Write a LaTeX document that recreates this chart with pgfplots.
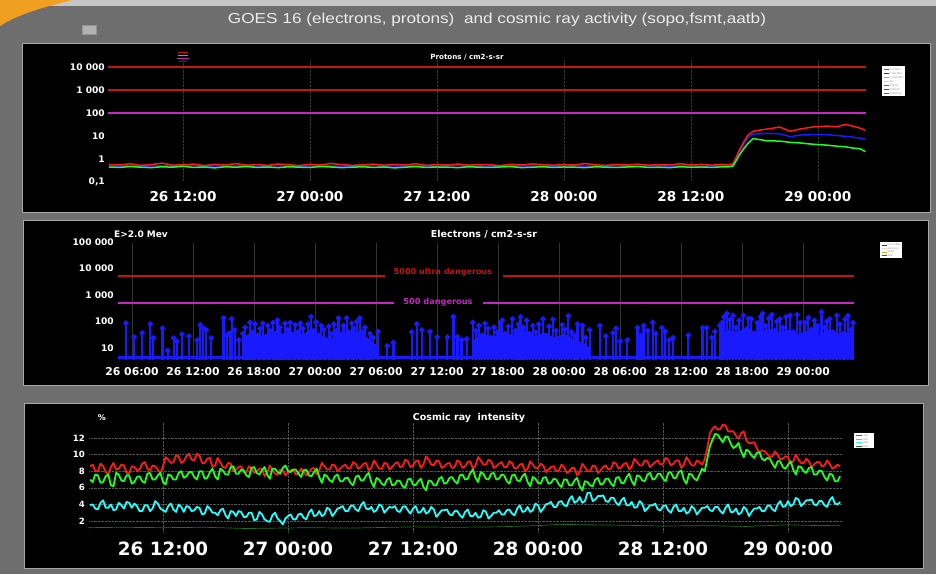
\documentclass[border=0pt]{standalone}
\usepackage{graphicx}
\usepackage{pgfplots}
\pgfplotsset{compat=1.18}
\usepackage{pgfplotstable}
\usepackage{fontspec}
\setmainfont{DejaVu Sans}
\newfontfamily\titlefont{Liberation Sans}
\definecolor{bgray}{HTML}{6E6E6E}
\definecolor{frameg}{HTML}{A8A8A8}
\definecolor{dred}{HTML}{C41414}
\definecolor{mag}{HTML}{C428C4}
\definecolor{pred}{HTML}{FF1A1A}
\definecolor{pgreen}{HTML}{1EFF1E}
\definecolor{pblue}{HTML}{1A1AFF}
\definecolor{pcyan}{HTML}{22FFFF}
\definecolor{dkgreen}{HTML}{1E701E}
\definecolor{gridc}{HTML}{555555}
\definecolor{orng}{HTML}{F0A020}

\pgfplotstableread{
t r b g
5 0.58 0.50 0.45
6 0.55 0.49 0.43
7 0.62 0.52 0.47
8 0.53 0.48 0.44
9 0.57 0.50 0.42
10 0.66 0.51 0.46
11 0.54 0.49 0.44
12 0.56 0.50 0.48
13 0.60 0.52 0.43
14 0.52 0.48 0.45
15 0.58 0.50 0.41
16 0.55 0.49 0.46
17 0.63 0.51 0.44
18 0.54 0.50 0.47
19 0.57 0.48 0.43
20 0.53 0.50 0.45
21 0.61 0.52 0.42
22 0.56 0.49 0.46
23 0.52 0.48 0.44
24 0.59 0.50 0.43
25 0.55 0.51 0.47
26 0.64 0.50 0.45
27 0.57 0.49 0.42
28 0.53 0.48 0.44
29 0.56 0.50 0.46
30 0.60 0.52 0.43
31 0.54 0.49 0.45
32 0.58 0.50 0.41
33 0.55 0.48 0.44
34 0.62 0.51 0.47
35 0.53 0.50 0.43
36 0.57 0.49 0.45
37 0.55 0.50 0.44
38 0.60 0.52 0.42
39 0.54 0.48 0.46
40 0.58 0.50 0.44
41 0.56 0.49 0.43
42 0.52 0.48 0.45
43 0.59 0.51 0.47
44 0.55 0.50 0.42
45 0.61 0.49 0.44
46 0.57 0.50 0.46
47 0.54 0.48 0.43
48 0.58 0.51 0.45
49 0.55 0.50 0.44
50 0.63 0.49 0.42
51 0.56 0.50 0.46
52 0.53 0.48 0.44
53 0.58 0.52 0.43
54 0.55 0.50 0.45
55 0.60 0.49 0.47
56 0.54 0.50 0.43
57 0.57 0.51 0.44
58 0.55 0.48 0.42
59 0.62 0.50 0.46
60 0.56 0.52 0.44
61 0.58 0.49 0.45
62 0.54 0.50 0.43
63 0.59 0.51 0.46
63.5 0.55 0.50 0.45
64.0 0.62 0.56 0.50
64.6 2.5 2.0 1.5
65.0 5.5 4.5 2.8
65.4 11 9 4.8
65.9 16 12 7.7
66.5 18 12.5 7.0
67.2 20 13 6.2
67.8 22 12.8 6.1
68.4 24.6 12.5 6.0
69.4 16 9.3 5.3
70.3 20 11 5.0
71.5 24.6 11.4 4.4
72.9 27 11.4 4.0
73.8 25 10.5 3.6
74.6 32 9.7 3.4
75.3 27 9 3.0
76.0 22 8 2.8
76.5 18 7.2 2.1
}\protons

\pgfplotstableread{
t v
5.4 87
6.2 26
7.0 37
7.8 81
8.1 24
9.0 56
9.5 8
10.1 24
10.4 18
10.9 33
11.6 28
12.4 20
12.7 74
13.0 55
13.3 48
13.8 24
15.0 135
15.3 30
15.6 37
15.8 125
16.1 48
16.5 20
16.9 35
17.1 60
17.35 25
17.6 92
17.85 40
18.1 80
18.35 30
18.6 55
18.85 85
19.1 20
19.35 70
19.6 45
19.85 90
20.1 35
20.3 112
20.55 60
20.8 28
21.05 85
21.3 50
21.55 90
21.8 30
22.05 75
22.3 40
22.55 85
22.8 55
23.05 25
23.3 80
23.6 153
23.85 45
24.1 95
24.35 30
24.6 70
24.85 50
25.1 20
25.35 65
25.6 35
25.85 80
26.1 45
26.3 135
26.55 30
26.8 70
27.1 135
27.35 40
27.6 85
27.85 55
28.1 100
28.4 135
28.65 40
28.9 60
29.15 15
29.4 35
29.7 25
30.2 42
31.1 12
31.7 16
33.5 40
34.0 81
34.5 48
35.3 42
36.0 26
37.0 26
37.6 153
38.0 26
38.4 20
38.9 22
39.5 92
39.8 45
40.1 70
40.4 30
40.7 85
41.0 55
41.3 25
41.6 60
41.9 40
42.2 90
42.4 112
42.7 35
43.0 65
43.4 125
43.7 45
44.0 80
44.2 150
44.5 60
44.8 110
45.1 35
45.4 70
45.7 40
46.0 80
46.4 125
46.7 30
47.0 65
47.4 120
47.7 45
48.0 20
48.3 75
48.6 50
48.9 165
49.2 40
49.5 30
49.8 80
50.3 70
50.6 25
51.0 48
52.0 70
52.6 28
53.3 37
53.6 55
54.0 18
54.7 20
55.7 58
56.0 30
56.3 70
56.7 45
57.2 92
57.5 35
58.1 58
58.4 42
58.8 20
59.2 24
60.7 30
62.1 58
62.5 58
63.0 25
63.3 42
63.8 70
64.0 90
64.2 150
64.5 200
64.8 120
65.1 170
65.4 60
65.7 110
66.1 170
66.4 50
66.6 130
66.9 125
67.2 35
67.5 90
67.8 150
68.0 200
68.3 70
68.6 130
68.9 180
69.2 45
69.4 100
69.7 125
70.0 60
70.3 150
70.7 170
71.0 40
71.4 180
71.7 90
72.0 30
72.2 92
72.5 140
72.8 50
73.1 110
73.4 70
73.8 230
74.1 60
74.3 100
74.6 125
74.9 40
75.3 170
75.6 80
75.9 35
76.1 120
76.4 165
76.7 50
76.9 90
}\electrons

\pgfplotstableread{
t r g c
5.0 8.6 7.0 3.9
5.25 8.8 6.7 4.0
5.5 8.0 7.6 3.5
5.75 8.0 7.5 3.4
6.0 8.9 6.6 4.2
6.25 8.6 6.7 4.5
6.5 7.9 7.4 3.6
6.75 7.6 7.6 3.6
7.0 8.5 6.3 4.0
7.25 9.0 6.2 3.3
7.5 8.2 7.8 3.4
7.75 8.3 7.6 4.2
8.0 8.8 6.9 3.9
8.25 8.7 6.8 3.5
8.5 7.8 7.5 4.3
8.75 7.7 7.5 4.2
9.0 8.6 6.5 3.6
9.25 8.5 6.7 4.1
9.5 8.1 7.3 3.8
9.75 8.2 7.4 3.2
10.0 8.9 6.8 3.2
10.25 9.1 6.6 3.9
10.5 8.3 7.7 3.9
10.75 8.1 7.8 3.2
11.0 8.7 7.0 3.5
11.25 8.6 7.0 4.4
11.5 8.2 7.5 4.1
11.75 7.8 7.8 3.5
12.0 8.6 6.7 3.3
12.25 9.7 6.4 3.1
12.5 9.4 7.6 3.8
12.75 9.0 7.5 4.1
13.0 9.1 7.0 3.4
13.25 9.9 7.0 3.1
13.5 9.8 7.8 4.0
13.75 9.0 8.0 3.7
14.0 9.2 7.2 3.1
14.25 9.8 7.4 3.8
14.5 10.1 7.9 3.7
14.75 9.4 7.9 3.2
15.0 9.3 7.3 3.3
15.25 10.1 7.0 3.7
15.5 9.9 8.0 3.6
15.75 9.0 8.0 2.8
16.0 9.0 7.1 2.9
16.25 9.5 7.2 3.8
16.5 9.6 7.9 3.5
16.75 8.5 8.3 3.0
17.0 8.7 7.4 3.0
17.25 9.6 7.0 2.7
17.5 9.1 8.3 3.3
17.75 8.5 8.1 3.5
18.0 8.4 7.6 2.7
18.25 9.0 7.6 2.3
18.5 8.9 8.5 3.2
18.75 8.0 8.6 3.1
19.0 8.2 7.7 2.6
19.25 8.5 7.7 3.2
19.5 8.6 8.2 3.1
19.75 7.9 8.1 2.5
20.0 7.9 7.5 2.5
20.25 8.6 7.3 3.0
20.5 8.4 8.4 3.0
20.75 7.8 8.5 2.1
21.0 8.0 7.8 2.2
21.25 8.3 7.6 3.1
21.5 8.3 8.1 2.8
21.75 7.4 8.5 2.2
22.0 7.8 7.6 2.0
22.25 8.7 7.1 1.9
22.5 8.2 8.3 2.7
22.75 7.7 8.3 3.0
23.0 7.6 7.9 2.3
23.25 8.2 7.7 2.0
23.5 8.1 8.4 1.6
23.75 7.5 8.7 2.3
24.0 7.9 8.0 2.6
24.25 8.1 7.9 2.8
24.5 8.2 8.2 2.2
24.75 7.6 8.2 2.2
25.0 7.7 7.7 2.8
25.25 8.3 7.3 2.9
25.5 8.0 8.1 2.4
25.75 7.5 8.2 2.2
26.0 7.8 7.5 3.0
26.25 8.3 7.4 3.4
26.5 8.4 7.9 2.6
26.75 7.6 8.3 2.7
27.0 8.1 7.3 3.2
27.25 9.0 6.6 2.6
27.5 8.6 7.6 2.8
27.75 8.2 7.4 3.6
28.0 8.2 6.9 3.4
28.25 8.8 6.7 2.6
28.5 8.7 7.4 3.0
28.75 8.0 7.6 3.5
29.0 8.3 6.8 3.6
29.25 8.6 6.8 3.8
29.5 8.8 7.2 3.2
29.75 8.3 7.2 3.2
30.0 8.4 6.6 3.8
30.25 9.1 6.3 3.9
30.5 8.9 7.3 3.4
30.75 8.3 7.5 3.2
31.0 8.5 6.9 3.9
31.25 8.9 6.9 4.3
31.5 9.0 7.5 3.5
31.75 8.1 7.8 3.4
32.0 8.4 6.7 3.7
32.25 9.3 6.1 3.1
32.5 8.8 7.2 3.3
32.75 8.3 7.0 4.0
33.0 8.3 6.5 3.8
33.25 9.0 6.3 3.0
33.5 8.9 7.0 3.4
33.75 8.2 7.2 3.7
34.0 8.5 6.3 3.6
34.25 8.9 6.4 3.8
34.5 9.1 6.9 3.2
34.75 8.5 6.8 3.1
35.0 8.6 6.2 3.7
35.25 9.4 6.0 3.8
35.5 9.2 7.0 3.3
35.75 8.5 7.1 2.9
36.0 8.7 6.4 3.5
36.25 9.2 6.3 3.8
36.5 9.3 6.8 3.0
36.75 8.4 7.1 3.1
37.0 8.8 6.1 3.6
37.25 9.8 5.7 2.9
37.5 9.4 6.9 3.1
37.75 8.8 6.8 3.7
38.0 8.7 6.3 3.4
38.25 9.3 6.3 2.5
38.5 9.2 7.1 2.9
38.75 8.4 7.3 3.3
39.0 8.6 6.5 3.3
39.25 8.9 6.6 3.4
39.5 9.0 7.2 2.8
39.75 8.4 7.3 2.7
40.0 8.5 6.8 3.2
40.25 9.3 6.5 3.2
40.5 9.1 7.5 2.7
40.75 8.4 7.6 2.4
41.0 8.6 7.0 3.1
41.25 9.1 7.1 3.4
41.5 9.2 7.8 2.6
41.75 8.3 8.2 2.6
42.0 8.7 7.2 3.0
42.25 9.7 6.7 2.4
42.5 9.3 7.9 2.5
42.75 8.8 7.7 3.3
43.0 8.8 7.1 3.1
43.25 9.4 7.0 2.3
43.5 9.2 7.7 2.6
43.75 8.4 7.8 3.0
44.0 8.6 7.0 3.0
44.25 8.9 7.1 3.3
44.5 9.1 7.6 2.8
44.75 8.5 7.5 2.8
45.0 8.5 6.8 3.3
45.25 9.2 6.5 3.4
45.5 9.0 7.5 2.9
45.75 8.3 7.6 2.7
46.0 8.4 6.9 3.5
46.25 8.8 6.8 3.9
46.5 8.9 7.4 3.1
46.75 8.0 7.7 3.2
47.0 8.3 6.7 3.7
47.25 9.2 6.2 3.1
47.5 8.8 7.3 3.3
47.75 8.4 7.1 4.1
48.0 8.4 6.6 3.9
48.25 8.9 6.5 3.1
48.5 8.7 7.2 3.5
48.75 7.9 7.3 4.0
49.0 8.2 6.5 4.1
49.25 8.5 6.6 4.3
49.5 8.6 7.1 3.7
49.75 8.0 7.0 3.7
50.0 8.1 6.4 4.3
50.25 8.8 6.1 4.4
50.5 8.5 7.0 3.9
50.75 7.8 7.0 3.8
51.0 8.0 6.3 4.6
51.25 8.4 6.3 5.0
51.5 8.4 6.9 4.2
51.75 7.5 7.2 4.4
52.0 7.9 6.2 4.9
52.25 8.9 5.7 4.2
52.5 8.5 6.8 4.4
52.75 8.0 6.7 5.4
53.0 8.0 6.3 5.4
53.25 8.7 6.2 4.4
53.5 8.6 7.0 4.6
53.75 7.8 7.2 5.0
54.0 8.1 6.4 5.0
54.25 8.5 6.5 5.1
54.5 8.7 7.1 4.4
54.75 8.2 7.1 4.3
55.0 8.3 6.5 4.8
55.25 9.1 6.2 4.8
55.5 8.9 7.2 4.2
55.75 8.3 7.3 3.9
56.0 8.5 6.6 4.5
56.25 8.9 6.6 4.8
56.5 9.0 7.3 3.9
56.75 8.2 7.7 3.9
57.0 8.6 6.8 4.3
57.25 9.5 6.3 3.6
57.5 9.1 7.5 3.7
57.75 8.7 7.4 4.4
58.0 8.7 6.9 4.1
58.25 9.3 6.8 3.2
58.5 9.2 7.6 3.5
58.75 8.5 7.8 3.9
59.0 8.8 7.0 3.9
59.25 9.1 7.1 4.1
59.5 9.3 7.7 3.4
59.75 8.8 7.7 3.3
60.0 8.9 7.1 3.8
60.25 9.6 6.8 3.9
60.5 9.4 7.8 3.3
60.75 8.7 7.9 3.0
61.0 8.9 7.2 3.7
61.25 9.3 7.2 4.0
61.5 9.3 7.9 3.2
61.75 8.4 8.1 3.2
62.0 8.8 7.0 3.6
62.25 9.7 6.5 2.9
62.5 9.2 7.7 3.1
62.75 8.7 7.6 3.8
63.0 8.7 7.1 3.5
63.25 9.3 6.9 2.8
63.5 9.1 7.6 3.2
63.75 8.8 8.3 3.6
64.0 9.4 8.0 3.6
64.25 10.8 9.5 3.8
64.5 12.6 11.0 3.3
64.75 13.1 11.8 3.2
65.0 13.4 12.5 3.7
65.25 13.0 12.4 3.7
65.5 13.1 11.9 3.2
65.75 13.6 11.5 2.9
66.0 13.5 12.2 3.6
66.25 12.8 12.1 4.0
66.5 12.8 11.3 3.1
66.75 12.8 10.8 3.1
67.0 12.3 11.0 3.5
67.25 11.9 11.4 2.8
67.5 12.6 10.4 3.0
67.75 12.8 9.7 3.7
68.0 11.7 10.6 3.4
68.25 11.4 10.4 2.6
68.5 11.4 9.9 3.1
68.75 11.5 9.6 3.5
69.0 10.8 10.2 3.5
69.25 10.2 10.3 3.7
69.5 10.5 9.5 3.2
69.75 10.4 9.3 3.2
70.0 10.1 9.6 3.8
70.25 9.7 9.5 3.9
70.5 9.8 8.9 3.4
70.75 10.4 8.4 3.2
71.0 10.0 9.2 4.0
71.25 9.4 9.2 4.4
71.5 9.5 8.5 3.7
71.75 9.8 8.3 3.8
72.0 9.7 8.8 4.4
72.25 8.9 9.2 3.8
72.5 9.2 8.2 4.0
72.75 10.0 7.6 4.8
73.0 9.4 8.6 4.6
73.25 9.0 8.5 3.8
73.5 9.0 8.0 4.1
73.75 9.5 7.8 4.5
74.0 9.2 8.4 4.5
74.25 8.5 8.5 4.6
74.5 8.8 7.6 4.0
74.75 9.1 7.6 3.9
75.0 9.1 8.1 4.4
75.25 8.6 8.0 4.4
75.5 8.7 7.3 3.9
75.75 9.3 6.9 3.7
76.0 8.9 7.7 4.5
76.25 8.3 7.6 4.9
76.5 8.5 6.8 4.1
76.75 8.8 6.8 4.0
77.0 8.6 7.4 4.3
}\cosmic

\pgfplotsset{
  panel/.style={
    scale only axis,
    anchor=south west,
    axis line style={black},
    major tick length=0pt,
    minor tick length=0pt,
    tick style={draw=none},
    xticklabel style={text=white, anchor=north, inner sep=0pt},
    yticklabel style={text=white, anchor=east, inner sep=0pt},
  }
}

\begin{document}
\begin{tikzpicture}
\useasboundingbox (0pt,0pt) rectangle (936pt,574pt);
% background
\fill[bgray] (0pt,0pt) rectangle (936pt,574pt);
\fill[gray!45] (0pt,568pt) rectangle (936pt,574pt);
\fill[orng] (0pt,574pt) -- (72pt,574pt) .. controls (45pt,567pt) and (18pt,560pt) .. (0pt,548pt) -- cycle;
% title
\fill[gray!60] (82pt,540pt) rectangle (96pt,549pt);
\draw[gray!85, line width=0.6pt] (82pt,540pt) rectangle (96pt,549pt);
\node[text=gray!15] at (497pt,554pt) {\resizebox{538pt}{10.5pt}{\titlefont GOES 16 (electrons, protons)\ \ and cosmic ray activity (sopo,fsmt,aatb)}};
% panels
\fill[black] (22pt,362pt) rectangle (930pt,531pt);
\draw[frameg, line width=0.8pt] (22pt,362pt) rectangle (930pt,531pt);
\fill[black] (23pt,189pt) rectangle (928pt,354pt);
\draw[frameg, line width=0.8pt] (23pt,189pt) rectangle (928pt,354pt);
\fill[black] (24pt,6pt) rectangle (923pt,171pt);
\draw[frameg, line width=0.8pt] (24pt,6pt) rectangle (923pt,171pt);

% ---------- Panel 1: protons ----------
\begin{axis}[panel, at={(108pt,392pt)}, width=758pt, height=124.2pt,
  xmin=4.91, xmax=76.56, ymode=log, ymin=0.1, ymax=25119,
  xtick={12,24,36,48,60,72},
  xticklabels={26 12:00, 27 00:00, 27 12:00, 28 00:00, 28 12:00, 29 00:00},
  xticklabel style={font=\fontsize{13.6}{15}\selectfont\bfseries, yshift=-9pt},
  ytick={0.1,1,10,100,1000,10000},
  yticklabels={{0,1},1,10,100,{1 000},{10 000}},
  yticklabel style={font=\fontsize{9.1}{10}\selectfont\bfseries, xshift=-3pt},
  xmajorgrids, grid style={white!22!black, densely dotted, line width=0.5pt},
]
\addplot[dred, line width=1.8pt] coordinates {(4.91,10000) (76.56,10000)};
\addplot[dred, line width=1.8pt] coordinates {(4.91,1000) (76.56,1000)};
\addplot[mag, line width=1.5pt] coordinates {(4.91,100) (76.56,100)};
\addplot[pblue, line width=1.5pt, line join=round] table[x=t, y=b] {\protons};
\addplot[pred, line width=1.5pt, line join=round] table[x=t, y=r] {\protons};
\addplot[pgreen, line width=1.5pt, line join=round] table[x=t, y=g] {\protons};
\end{axis}
\node[text=white] at (467pt,517pt) {\fontsize{7.1}{8}\selectfont\bfseries Protons / cm2-s-sr};
% small marker artifact
\draw[dred, line width=0.6pt] (178pt,522pt) -- (188pt,522pt);
\draw[pred!70, line width=0.6pt] (178pt,519pt) -- (188pt,519pt);
\draw[mag, line width=0.8pt] (177pt,515.5pt) -- (189pt,515.5pt);
\draw[pblue, line width=0.6pt] (179pt,513pt) -- (187pt,513pt);
% legend 1
\fill[white] (882pt,478pt) rectangle (905pt,508pt);
\foreach \yy/\cc/\tt in {504.5/pred/P>1 Mev, 500.5/pblue/P>10 Mev, 496.5/pgreen/P>100 Mev, 492.5/pink/10, 488.5/mag/100 S2, 484.5/dred/1000 S3, 480.5/pred/10000 S4}{
  \draw[\cc, line width=1pt] (883.5pt,\yy pt) -- (889pt,\yy pt);
  \node[anchor=west, inner sep=0pt, text=gray] at (889.5pt,\yy pt) {\fontsize{2.4}{2.6}\selectfont \tt};
}

% ---------- Panel 2: electrons ----------
\begin{axis}[panel, at={(118pt,215pt)}, width=736pt, height=117pt,
  xmin=4.62, xmax=76.99, ymode=log, ymin=3.85, ymax=100000,
  xtick={6,12,18,24,30,36,42,48,54,60,66,72},
  xticklabels={26 06:00, 26 12:00, 26 18:00, 27 00:00, 27 06:00, 27 12:00, 27 18:00, 28 00:00, 28 06:00, 28 12:00, 28 18:00, 29 00:00},
  xticklabel style={font=\fontsize{10.8}{12}\selectfont\bfseries, yshift=-8pt},
  ytick={10,100,1000,10000,100000},
  yticklabels={10,100,{1 000},{10 000},{100 000}},
  yticklabel style={font=\fontsize{9.1}{10}\selectfont\bfseries, xshift=-4pt},
  xmajorgrids, grid style={white!20!black, line width=0.4pt},
]
\addplot[dred, line width=2pt] coordinates {(4.62,5000) (30.88,5000)};
\addplot[dred, line width=2pt] coordinates {(42.48,5000) (76.99,5000)};
\addplot[mag, line width=1.3pt] coordinates {(4.62,500) (31.76,500)};
\addplot[mag, line width=1.3pt] coordinates {(40.51,500) (76.99,500)};
% dense parts of the electron flux: solid fill under the spikes
\addplot[fill=pblue, draw=none] coordinates {(16.9,3.85) (16.9,20) (17.5,35) (18.5,25) (19.5,40) (20.5,30) (21.5,45) (22.5,28) (23.5,50) (24.5,30) (25.5,22) (26.5,40) (27.5,35) (28.5,45) (29.5,18) (30.2,12) (30.2,3.85)} -- cycle;
\addplot[fill=pblue, draw=none] coordinates {(39.5,3.85) (39.5,20) (40.5,35) (41.5,25) (42.5,40) (43.5,30) (44.5,45) (45.5,28) (46.5,38) (47.5,25) (48.5,35) (49.5,20) (50.5,15) (51,10) (51,3.85)} -- cycle;
\addplot[fill=pblue, draw=none] coordinates {(63.9,3.85) (63.9,20) (64.5,50) (65.5,40) (66.5,60) (67.5,35) (68.5,55) (69.5,40) (70.5,50) (71.5,35) (72.5,45) (73.5,30) (74.5,50) (75.5,35) (76.5,40) (76.99,30) (76.99,3.85)} -- cycle;
\addplot[pblue, ycomb, line width=2.2pt, mark=*, mark size=1.5pt, mark options={fill=pblue, draw=pblue}] table[x=t, y=v] {\electrons};
\addplot[pblue, line width=3pt] coordinates {(4.62,4.3) (76.99,4.3)};
\end{axis}
\node[text=white] at (141pt,340pt) {\fontsize{9}{10}\selectfont\bfseries E>2.0 Mev};
\node[text=white] at (484pt,340pt) {\fontsize{9.5}{10}\selectfont\bfseries Electrons / cm2-s-sr};
\node[text=dred] at (443pt,302pt) {\fontsize{8.1}{9}\selectfont\bfseries 5000 ultra dangerous};
\node[text=mag] at (438pt,272pt) {\fontsize{8.2}{9}\selectfont\bfseries 500 dangerous};
% legend 2
\fill[white] (880pt,316pt) rectangle (902pt,332pt);
\foreach \yy/\cc/\tt in {329/pblue/E>2.0 Mev, 325.5/gray!30/Electrons, 322/orng/5000, 318.5/black!70/500}{
  \draw[\cc, line width=1pt] (881.5pt,\yy pt) -- (887pt,\yy pt);
  \node[anchor=west, inner sep=0pt, text=gray] at (887.5pt,\yy pt) {\fontsize{2.4}{2.6}\selectfont \tt};
}

% ---------- Panel 3: cosmic rays ----------
\begin{axis}[panel, at={(88pt,40.5pt)}, width=754pt, height=112.1pt,
  xmin=4.8, xmax=77.18, ymin=0.5, ymax=14,
  xtick={12,24,36,48,60,72},
  xticklabels={26 12:00, 27 00:00, 27 12:00, 28 00:00, 28 12:00, 29 00:00},
  xticklabel style={font=\fontsize{18.3}{20}\selectfont\bfseries, yshift=-8pt},
  ytick={2,4,6,8,10,12},
  yticklabel style={font=\fontsize{8.6}{10}\selectfont\bfseries, xshift=-3pt},
  /pgf/number format/assume math mode=true,
  xmajorgrids, ymajorgrids, grid style={gridc, densely dotted, line width=0.5pt},
]
\addplot[dkgreen, line width=0.7pt] coordinates {(4.8,1.2) (8,1.25) (12,1.2) (16,1.25) (20,1.1) (26,1.2) (30,1.15) (36,1.3) (40,1.25) (44,1.3) (48,1.45) (50,1.6) (53,1.55) (56,1.5) (60,1.4) (64,1.45) (68,1.35) (72,1.55) (75,1.45) (77,1.5)};
\addplot[pcyan, line width=1.8pt, line join=round] table[x=t, y=c] {\cosmic};
\addplot[pred, line width=1.8pt, line join=round] table[x=t, y=r] {\cosmic};
\addplot[pgreen, line width=1.8pt, line join=round] table[x=t, y=g] {\cosmic};
\end{axis}
\node[text=white] at (102pt,156pt) {\fontsize{8}{9}\selectfont\bfseries \%};
\node[text=white] at (469pt,156pt) {\fontsize{9.5}{10}\selectfont\bfseries Cosmic ray\ \ intensity};
% legend 3
\fill[white] (854pt,126pt) rectangle (874pt,141pt);
\foreach \yy/\cc/\tt in {138.2/pred/sopo, 134.7/pgreen/fsmt, 131.2/pcyan/aatb, 127.7/dkgreen/base}{
  \draw[\cc, line width=1pt] (855.5pt,\yy pt) -- (862pt,\yy pt);
  \node[anchor=west, inner sep=0pt, text=gray] at (862.5pt,\yy pt) {\fontsize{2.4}{2.6}\selectfont \tt};
}
\end{tikzpicture}
\end{document}
